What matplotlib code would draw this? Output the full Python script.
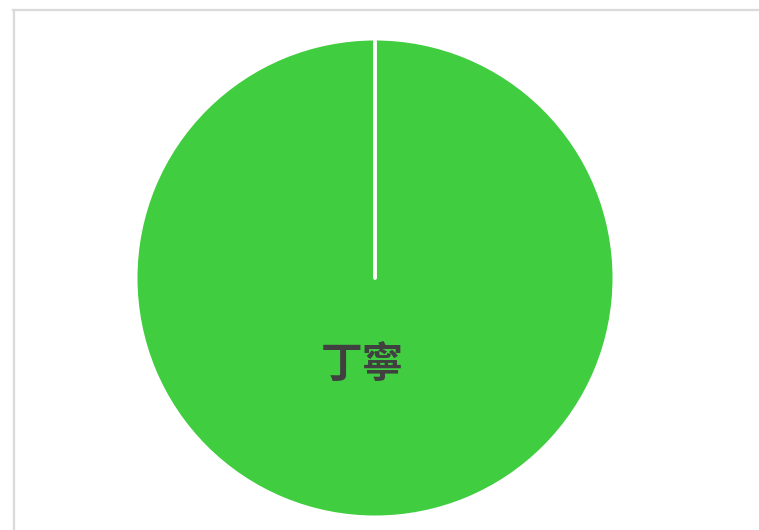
import matplotlib.pyplot as plt
from matplotlib.lines import Line2D

plt.rcParams['font.family'] = ['Noto Sans CJK TC', 'DejaVu Sans']

# one category, so the pie is a single full slice
labels = ['丁寧']
values = [1]
colors = ['#40cd40']

W, H = 759, 530
fig = plt.figure(figsize=(W / 100, H / 100), dpi=100)
ax = fig.add_axes([0, 0, 1, 1])
ax.set_xlim(0, W)
ax.set_ylim(0, H)
ax.set_aspect('equal')
ax.axis('off')

# panel border (top and left edges only)
ax.add_line(Line2D([13, W], [H - 10, H - 10], color='#dadada', lw=1.6))
ax.add_line(Line2D([13.5, 13.5], [0, H - 10], color='#dadada', lw=1.6))

wedges, _ = ax.pie(values, colors=colors, startangle=90, counterclock=False,
                   center=(375, H - 278), radius=237.5,
                   wedgeprops=dict(edgecolor='white', linewidth=0))
ax.set_xlim(0, W)
ax.set_ylim(0, H)

# a full-circle wedge has no radial edge, so draw the slice border at the start angle
w = wedges[0]
cx, cy = w.center
ax.plot([cx, cx], [cy, cy + w.r], color='white', lw=2.8, solid_capstyle='round')

ax.text(362, H - 365, labels[0], ha='center', va='center', fontsize=30,
        fontweight='bold', color='#404040')

fig.savefig('out.png', dpi=100)
